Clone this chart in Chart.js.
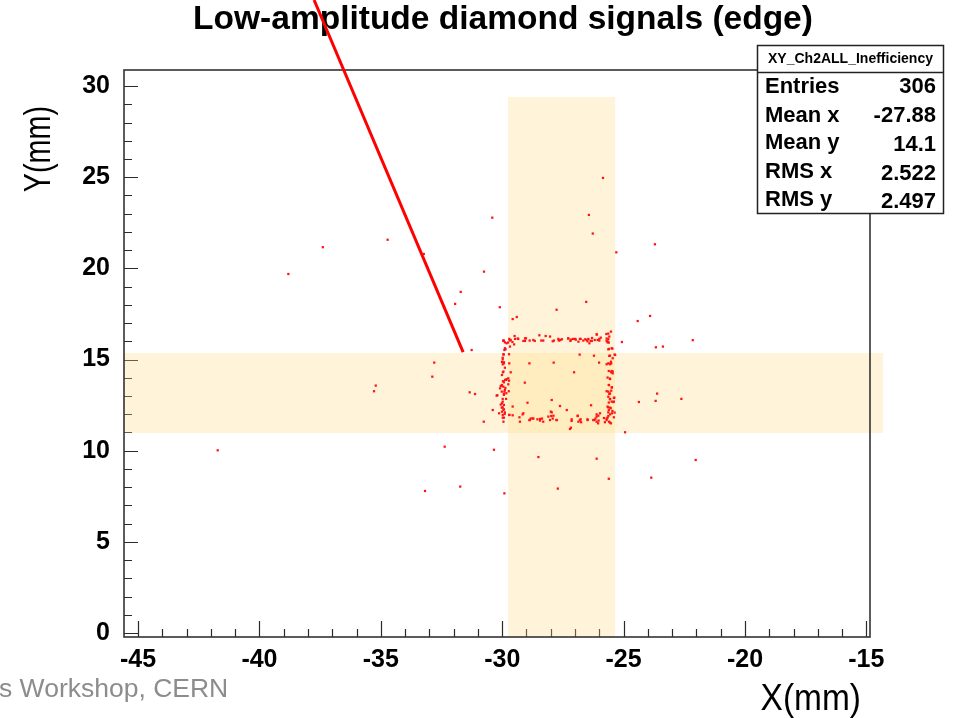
<!DOCTYPE html>
<html>
<head>
<meta charset="utf-8">
<title>Low-amplitude diamond signals (edge)</title>
<script src="https://cdn.jsdelivr.net/npm/chart.js@4.4.1/dist/chart.umd.min.js"></script>
<style>
  html, body { margin: 0; padding: 0; background: #fff; }
  canvas { display: block; }
</style>
</head>
<body>
<canvas id="hitChart" width="956" height="718"></canvas>
<script>
// axis setup (mm)
var xTicks = [-45, -40, -35, -30, -25, -20, -15];
var yTicks = [0, 5, 10, 15, 20, 25, 30];
var xRange = [-45.58, -14.85];
var yRange = [-0.22, 30.88];

// shaded beam regions, data coords
var vBandX = [-29.76, -25.35];
var vBandY = [-0.22, 29.4];
var hBandX = [-45.6, -14.32];
var hBandY = [10.97, 15.36];

// red pointer line
var pointerX = [-37.75, -31.61];
var pointerY = [34.72, 15.41];

// stats box
var statTitle = 'XY_Ch2ALL_Inefficiency';
var statLabels = ['Entries', 'Mean x', 'Mean y', 'RMS x', 'RMS y'];
var statValues = ['306', '-27.88', '14.1', '2.522', '2.497'];

// hits, [x, y] in mm
var topEdge = [
  [-29.49,16.29],[-29.36,16.15],[-29.69,16.04],[-29.76,15.93],[-29.94,16.04],[-29.82,15.89],
  [-29.58,15.96],[-29.13,16.02],[-29.02,16.16],[-28.87,16.04],[-28.72,16.07],[-28.66,16.02],
  [-28.47,16.33],[-28.39,16.04],[-28.31,16.04],[-28.21,16.29],[-28.03,16.26],[-27.92,16.00],
  [-27.87,16.04],[-27.67,16.04],[-27.61,16.07],[-27.54,16.11],[-27.28,16.15],[-27.19,16.02],
  [-27.08,16.13],[-26.97,16.09],[-26.86,15.98],[-26.77,16.13],[-26.66,16.04],[-26.58,16.11],
  [-26.49,16.00],[-26.41,15.89],[-26.36,16.02],[-26.30,16.18],[-26.19,16.07],[-26.10,16.37],
  [-26.00,16.04],[-25.94,16.20],[-25.70,16.15],[-25.66,16.00],[-25.61,15.93],[-25.59,16.26],
  [-25.52,16.53],[-25.71,16.40],[-27.69,16.13],[-27.62,16.07],[-27.28,16.16],[-27.17,16.09],
  [-27.00,16.13],[-26.80,16.13],[-26.52,16.07],[-26.45,16.13],[-26.31,16.02],[-26.07,16.07],
  [-26.00,16.13],[-25.70,16.02],[-25.63,16.13],[-25.66,15.94],[-25.63,16.42],[-26.11,16.38],
  [-29.95,16.02],[-29.71,16.13],[-29.65,16.07],[-29.47,16.13],[-29.51,15.83],[-29.34,16.13],
  [-29.06,16.16],[-29.06,16.02]
];
var leftEdge = [
  [-29.95,16.04],[-29.91,15.52],[-29.86,15.56],[-29.72,15.29],[-29.94,15.27],[-29.98,15.01],
  [-30.01,14.87],[-29.93,14.79],[-29.71,14.79],[-29.97,14.30],[-30.01,14.15],[-29.97,13.81],
  [-29.88,13.88],[-29.82,13.92],[-29.72,13.84],[-30.02,13.55],[-30.06,13.55],[-29.95,13.51],
  [-29.87,13.44],[-29.75,13.64],[-29.91,13.24],[-29.83,13.15],[-29.93,13.11],[-29.98,12.84],
  [-30.01,12.60],[-30.06,12.53],[-29.98,12.38],[-29.93,12.27],[-30.01,12.14],[-29.90,12.01],
  [-29.98,11.81],[-29.95,11.59],[-29.73,13.26],[-30.20,13.04],[-30.39,12.23],[-30.13,12.05],
  [-29.71,11.96],[-29.89,15.94],[-29.68,15.71],[-29.89,15.62],[-29.95,15.29],[-29.98,15.10],
  [-29.93,14.85],[-29.98,14.74],[-29.89,14.55],[-29.95,14.34],[-29.75,13.97],[-29.84,13.88],
  [-29.93,13.75],[-30.01,13.60],[-30.09,13.42],[-29.89,13.33],[-30.02,13.24],[-29.93,13.06],
  [-30.23,13.02],[-29.84,12.84],[-29.98,12.69],[-29.93,12.51],[-30.02,12.36],[-29.95,12.23],
  [-29.89,12.10],[-29.98,11.96],[-29.93,11.81],[-29.71,11.96],[-29.57,12.42]
];
var bottomEdge = [
  [-29.57,11.94],[-29.29,11.83],[-29.16,11.99],[-28.88,11.68],[-28.83,11.76],[-28.72,11.76],
  [-28.55,11.72],[-28.44,11.65],[-28.36,11.76],[-28.10,11.87],[-27.98,11.90],[-27.92,11.76],
  [-27.76,11.68],[-27.14,11.72],[-26.89,11.90],[-26.80,11.68],[-26.77,11.72],[-26.49,11.72],
  [-26.25,11.68],[-26.16,11.76],[-26.11,11.87],[-26.03,11.65],[-26.05,11.50],[-25.81,11.79],
  [-25.70,11.76],[-25.63,11.90],[-25.56,11.54],[-25.40,11.83],[-27.17,11.26],[-26.11,11.99],
  [-26.04,11.92],[-25.97,12.05],[-26.20,11.68],[-26.11,11.59],[-26.48,11.68],[-26.75,11.56],
  [-26.86,11.59],[-26.89,11.92],[-27.14,11.63],[-27.21,11.19],[-27.76,11.68],[-29.27,11.59],
  [-28.86,11.68],[-28.44,11.74],[-28.75,11.77],[-28.31,11.59],[-27.96,12.10],[-27.89,11.92],
  [-28.03,11.68],[-29.13,12.05]
];
var rightEdge = [
  [-25.63,15.56],[-25.46,15.60],[-25.37,15.27],[-25.59,15.20],[-25.51,14.79],[-25.56,14.76],
  [-25.61,14.37],[-25.51,14.30],[-25.45,14.24],[-25.56,13.95],[-25.61,13.60],[-25.48,13.48],
  [-25.51,13.29],[-25.70,13.26],[-25.59,13.11],[-25.40,12.89],[-25.56,12.82],[-25.61,12.64],
  [-25.42,12.67],[-25.53,12.33],[-25.61,12.23],[-25.48,12.05],[-25.37,12.09],[-25.64,12.38],
  [-25.60,15.58],[-25.49,15.62],[-25.56,15.21],[-25.35,15.25],[-25.45,15.07],[-25.52,14.88],
  [-25.63,14.79],[-25.56,14.74],[-25.49,14.37],[-25.45,14.34],[-25.66,14.01],[-25.56,13.93],
  [-25.60,13.60],[-25.49,13.46],[-25.63,13.24],[-25.56,13.14],[-25.38,12.91],[-25.63,12.96],
  [-25.56,12.84],[-25.49,12.69],[-25.40,12.69],[-25.66,12.42],[-25.56,12.36],[-25.46,12.18],
  [-25.63,12.10],[-25.56,11.99],[-25.66,11.81],[-25.70,11.68],[-25.60,11.59],[-25.52,11.50],
  [-25.77,11.56],[-25.70,14.74]
];
var innerHits = [
  [-26.01,14.83],[-26.81,15.27],[-26.22,15.21],[-27.04,14.30],[-27.88,14.83],[-28.88,14.79],
  [-27.96,12.78],[-26.34,12.49],[-27.62,12.45],[-27.34,12.23],[-28.00,12.14],[-28.96,12.63],
  [-29.07,13.73],[-29.65,14.30]
];
var strayHits = [
  [-34.72,21.57],[-37.39,21.16],[-33.23,20.79],[-30.75,19.82],[-38.81,19.69],[-31.71,18.71],
  [-31.94,18.05],[-31.26,15.52],[-32.80,14.83],[-32.88,14.06],[-35.21,13.57],[-35.28,13.26],
  [-31.34,13.20],[-31.12,13.11],[-30.76,11.59],[-41.72,10.02],[-32.37,10.22],[-33.18,7.79],
  [-31.73,8.03],[-25.85,24.96],[-30.41,22.78],[-26.43,22.93],[-26.27,21.91],[-25.30,20.88],
  [-30.10,17.87],[-26.54,18.16],[-27.76,17.73],[-29.57,17.22],[-29.40,17.33],[-23.71,21.32],
  [-24.42,17.11],[-23.91,17.39],[-25.07,15.96],[-22.15,16.06],[-23.67,15.67],[-23.38,15.71],
  [-24.94,11.01],[-23.62,13.13],[-23.68,12.73],[-24.37,12.67],[-22.62,12.84],[-22.03,9.49],
  [-23.86,8.52],[-25.61,8.46],[-30.34,10.05],[-28.51,9.65],[-26.11,9.56],[-29.91,7.66],
  [-27.71,7.92]
];

var allHits = topEdge.concat(leftEdge, bottomEdge, rightEdge, innerHits, strayHits);
var sans = '"Liberation Sans", Arial, Helvetica, sans-serif';

// draws text squeezed horizontally (stand-in for a narrow slide font)
function squeezed(ctx, text, x, y, sx, align) {
    ctx.save();
    ctx.translate(x, y);
    ctx.scale(sx, 1);
    ctx.textAlign = align;
    ctx.fillText(text, 0, 0);
    ctx.restore();
}

var rootLook = {
    id: 'rootLook',
    beforeDatasetsDraw: function (chart) {
        var ctx = chart.ctx, xs = chart.scales.x, ys = chart.scales.y, a = chart.chartArea;
        ctx.save();

        // ticks inside the frame
        ctx.strokeStyle = '#2a2a2a';
        ctx.lineWidth = 1.2;
        ctx.beginPath();
        for (var v = xTicks[0]; v <= xTicks[xTicks.length - 1]; v++) {
            var px = Math.round(xs.getPixelForValue(v)) + 0.5;
            var len = (v % 5 === 0) ? 16 : 8;
            ctx.moveTo(px, a.bottom);
            ctx.lineTo(px, a.bottom - len);
        }
        for (var w = yTicks[0]; w <= yTicks[yTicks.length - 1]; w++) {
            var py = Math.round(ys.getPixelForValue(w)) + 0.5;
            var l2 = (w % 5 === 0) ? 14 : 8;
            ctx.moveTo(a.left, py);
            ctx.lineTo(a.left + l2, py);
        }
        ctx.stroke();

        // beam bands
        ctx.fillStyle = 'rgba(255, 218, 130, 0.3)';
        [[hBandX, hBandY], [vBandX, vBandY]].forEach(function (b) {
            var x0 = xs.getPixelForValue(b[0][0]), x1 = xs.getPixelForValue(b[0][1]);
            var y0 = ys.getPixelForValue(b[1][1]), y1 = ys.getPixelForValue(b[1][0]);
            ctx.fillRect(x0, y0, x1 - x0, y1 - y0);
        });

        // frame
        ctx.strokeStyle = '#333';
        ctx.lineWidth = 1.6;
        ctx.strokeRect(a.left, a.top, a.right - a.left, a.bottom - a.top);

        // title
        ctx.fillStyle = '#000';
        ctx.font = 'bold 33.5px ' + sans;
        ctx.textAlign = 'center';
        ctx.textBaseline = 'middle';
        ctx.fillText('Low-amplitude diamond signals (edge)', 503, 20);
        ctx.restore();
    },
    afterDraw: function (chart) {
        var ctx = chart.ctx;
        ctx.save();

        // axis titles
        ctx.fillStyle = '#000';
        ctx.font = '36px ' + sans;
        ctx.textBaseline = 'middle';
        squeezed(ctx, 'X(mm)', 861, 700, 0.93, 'right');
        ctx.save();
        ctx.translate(40, 149);
        ctx.rotate(-Math.PI / 2);
        squeezed(ctx, 'Y(mm)', 0, 0, 0.8, 'center');
        ctx.restore();

        // footer fragment
        ctx.fillStyle = '#8c8c8c';
        ctx.font = '26.5px ' + sans;
        ctx.textAlign = 'left';
        ctx.fillText('s Workshop, CERN', -1, 690);

        // stats box
        var bx = 757.5, by = 45.5, bw = 186, bh = 168;
        ctx.fillStyle = '#fff';
        ctx.fillRect(bx, by, bw, bh);
        ctx.strokeStyle = '#222';
        ctx.lineWidth = 1.5;
        ctx.strokeRect(bx, by, bw, bh);
        ctx.beginPath();
        ctx.moveTo(bx, 72.5);
        ctx.lineTo(bx + bw, 72.5);
        ctx.stroke();
        ctx.fillStyle = '#000';
        ctx.font = 'bold 14px ' + sans;
        ctx.textAlign = 'center';
        ctx.fillText(statTitle, bx + bw / 2, 59);
        var rowY = [87, 116, 143, 172, 200];
        ctx.font = 'bold 22px ' + sans;
        statLabels.forEach(function (lab, i) {
            ctx.textAlign = 'left';
            ctx.fillText(lab, 765, rowY[i]);
            ctx.textAlign = 'right';
            ctx.fillText(statValues[i], 936, rowY[i] + (i >= 2 ? 2 : 0));
        });
        ctx.restore();
    }
};

var tickFont = { family: sans, size: 25, weight: 'bold' };

var chart = new Chart(document.getElementById('hitChart'), {
    type: 'scatter',
    data: {
        datasets: [
            {
                data: allHits.map(function (p) { return { x: p[0], y: p[1] }; }),
                pointStyle: 'rect',
                pointRadius: 1.6,
                backgroundColor: '#ff1414',
                borderWidth: 0
            },
            {
                type: 'line',
                data: pointerX.map(function (x, i) { return { x: x, y: pointerY[i] }; }),
                borderColor: '#ff0000',
                borderWidth: 3,
                pointRadius: 0,
                showLine: true,
                fill: false,
                clip: false
            }
        ]
    },
    options: {
        responsive: false,
        animation: false,
        devicePixelRatio: 1,
        layout: { padding: { top: 70, right: 86, bottom: 0, left: 0 } },
        plugins: {
            legend: { display: false },
            tooltip: { enabled: false },
            title: { display: false }
        },
        scales: {
            x: {
                type: 'linear',
                min: xRange[0],
                max: xRange[1],
                afterFit: function (s) { s.height = 81; },
                afterBuildTicks: function (s) { s.ticks = xTicks.map(function (v) { return { value: v }; }); },
                grid: { display: false },
                border: { display: false },
                ticks: { color: '#000', font: tickFont, padding: 0, maxRotation: 0, autoSkip: false }
            },
            y: {
                type: 'linear',
                min: yRange[0],
                max: yRange[1],
                afterFit: function (s) { s.width = 124; },
                afterBuildTicks: function (s) { s.ticks = yTicks.map(function (v) { return { value: v }; }); },
                grid: { display: false },
                border: { display: false },
                ticks: { color: '#000', font: tickFont, padding: 6, autoSkip: false }
            }
        }
    },
    plugins: [rootLook]
});
</script>
</body>
</html>
